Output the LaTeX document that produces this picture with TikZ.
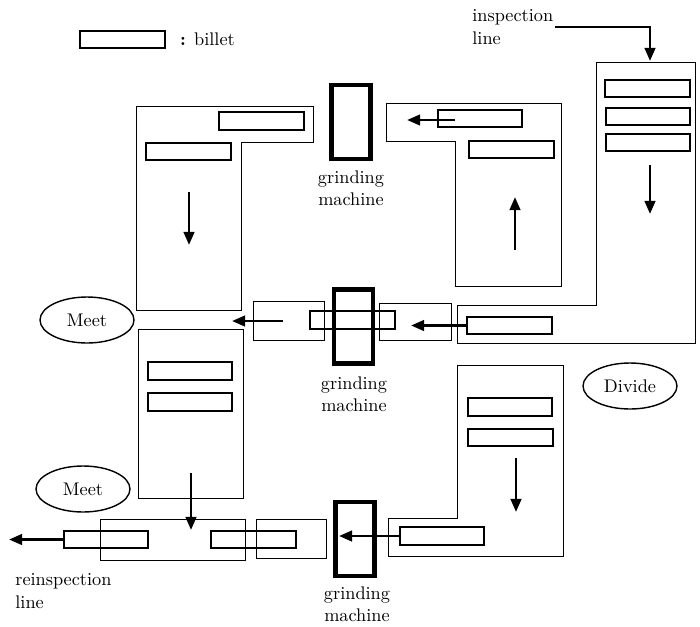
\documentclass[tikz,border=0pt]{standalone}
\usetikzlibrary{arrows.meta,shapes.geometric}
\begin{document}
\begin{tikzpicture}[x=0.02cm,y=-0.02cm,
  every node/.style={font=\fontsize{10.4}{12.8}\selectfont},
  billet/.style={draw, line width=1pt, inner sep=0pt, minimum width=1.69cm, minimum height=0.35cm},
  grinder/.style={draw, line width=2.7pt, inner sep=0pt, minimum width=0.78cm, minimum height=1.48cm},
  zone/.style={draw, line width=0.5pt},
  flow/.style={line width=1.6pt, -{Triangle[length=7.5pt,width=6pt]}},
  oval/.style={draw, ellipse, line width=0.8pt, inner sep=0pt, minimum width=1.88cm, minimum height=0.92cm},
  gmlabel/.style={align=center, inner sep=0pt}]
\useasboundingbox (0,0) rectangle (700,626);

% containers
\draw[zone] (136,106) -- (313,106) -- (313,142) -- (241,142) -- (241,310) -- (136,310) -- cycle;
\draw[zone] (386,103) -- (561,103) -- (561,286) -- (455,286) -- (455,141) -- (386,141) -- cycle;
\draw[zone] (596,62) -- (695,62) -- (695,343) -- (457,343) -- (457,305) -- (596,305) -- cycle;
\draw[zone] (138,329) rectangle (243,498);
\draw[zone] (457,365) -- (563,365) -- (563,556) -- (388,556) -- (388,518) -- (457,518) -- cycle;
% transfer boxes
\draw[zone] (253,301) rectangle (324,340);
\draw[zone] (379,303) rectangle (451,340);
\draw[zone] (100,519) rectangle (245,560);
\draw[zone] (256,519) rectangle (326,558);

% legend
\node[billet] (leg) at (122.5,39.5) {};
\node[anchor=west] (legtxt) at (174,39) {\textbf{:} billet};

% billets
\node[billet] (tl1) at (261.5,121) {};
\node[billet] (tl2) at (188.5,151.5) {};
\node[billet] (tm1) at (480,118.5) {};
\node[billet] (tm2) at (511.5,149.5) {};
\node[billet] (r1) at (647.5,88.5) {};
\node[billet] (r2) at (648,116.5) {};
\node[billet] (r3) at (648,142.5) {};
\node[billet] (r4) at (509.5,325.5) {};
\node[billet] (mid) at (352.5,320) {};
\node[billet] (lm1) at (190,371) {};
\node[billet] (lm2) at (190,402) {};
\node[billet] (br1) at (510,407) {};
\node[billet] (br2) at (510.5,437.5) {};
\node[billet] (br3) at (442,536) {};
\node[billet] (bl1) at (106,539.5) {};
\node[billet] (bl2) at (253.5,539.5) {};

% grinding machines
\node[grinder] (g1) at (351,122) {};
\node[grinder] (g2) at (353.5,326.5) {};
\node[grinder] (g3) at (355,539) {};
\node[gmlabel] (g1l) at (351,188) {grinding\\machine};
\node[gmlabel] (g2l) at (354,394) {grinding\\machine};
\node[gmlabel] (g3l) at (357,604) {grinding\\machine};

% ovals
\node[oval] (meet1) at (87,320) {Meet};
\node[oval] (meet2) at (83,489) {Meet};
\node[oval] (divide) at (630,386) {Divide};

% line labels
\node[anchor=west, align=left, inner sep=0pt] (insp) at (472,27) {inspection\\line};
\node[anchor=west, align=left, inner sep=0pt] (reinsp) at (15,591) {reinspection\\line};

% coordinates for arrows
\coordinate (inspout) at (555,27);
\coordinate (inspin) at (650,61);
\coordinate (a1s) at (189,192); \coordinate (a1e) at (189,245);
\coordinate (a2s) at (455,120); \coordinate (a2e) at (407,120);
\coordinate (a3s) at (515,250); \coordinate (a3e) at (515,197);
\coordinate (a4s) at (650,165); \coordinate (a4e) at (650,214);
\coordinate (a6e) at (411,325.5);
\coordinate (a7s) at (283,321); \coordinate (a7e) at (232,321);
\coordinate (a8s) at (191,473); \coordinate (a8e) at (191,530);
\coordinate (a9s) at (516,458); \coordinate (a9e) at (516,512);
\coordinate (a10e) at (339,536);
\coordinate (a11e) at (9,539.5);

% arrows
\draw[flow] (inspout) -| (inspin);
\draw[flow] (a1s) -- (a1e);
\draw[flow] (a2s) -- (a2e);
\draw[flow] (a3s) -- (a3e);
\draw[flow] (a4s) -- (a4e);
\draw[flow] (r4.west) -- (a6e);
\draw[flow] (a7s) -- (a7e);
\draw[flow] (a8s) -- (a8e);
\draw[flow] (a9s) -- (a9e);
\draw[flow] (br3.west) -- (a10e);
\draw[flow] (bl1.west) -- (a11e);
\end{tikzpicture}
\end{document}
